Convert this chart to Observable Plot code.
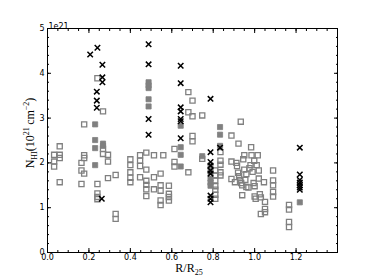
<!DOCTYPE html>
<html><head><meta charset="utf-8">
<script src="https://cdn.jsdelivr.net/npm/d3@7"></script>
<script src="https://cdn.jsdelivr.net/npm/@observablehq/plot@0.6"></script>
<style>body{margin:0;background:#fff}#chart{width:374px;height:280px}</style>
</head><body><div id="chart"></div>
<script>
// open (hollow) gray squares
const openX = [0.032,0.032,0.032, 0.059,0.059,0.059,0.059, 0.164,0.164,0.164, 0.177,0.177,0.177,0.177,
  0.241,0.241,0.241,0.241,0.241, 0.268,0.268,0.268, 0.292,0.292,0.292, 0.329,0.329,0.329,
  0.40,0.40,0.40,0.40,0.40, 0.447,0.447,0.447,0.447, 0.477,0.477,0.477,0.477,0.477,0.477,
  0.514,0.514,0.514, 0.546,0.546,0.546,0.546,0.546, 0.559, 0.586,0.586,0.586,0.586,
  0.613,0.613,0.613, 0.68,0.68,0.68, 0.70,0.70,0.70,0.70, 0.747,0.747,
  0.81,0.81,0.81,0.81,0.81,0.81,0.81, 0.835,0.835,0.835,0.835,0.835,
  0.888,0.888,0.888, 0.922,0.933,0.983,
  0.905,0.912,0.915,0.92,0.925,0.93,0.935,0.94,0.94,0.945,0.95,0.95,0.955,0.96,0.96,0.97,0.975,0.98,0.985,0.99,0.995,0.998,
  1.0,1.0,1.005,1.01,1.015,1.02,1.02,1.025,1.03,1.03,1.045,1.05,1.05,1.05,
  1.089,1.089,1.089,1.089,1.089, 1.166,1.166,1.166,1.166];
const openY = [2.18,2.03,1.92, 2.37,2.18,2.11,1.57, 2.00,1.83,1.53, 2.86,2.17,2.11,1.76,
  3.89,1.53,1.32,1.24,1.19, 3.15,2.31,2.20, 2.18,2.03,1.66, 1.73,0.86,0.75,
  2.08,1.95,1.79,1.67,1.57, 2.17,2.05,1.93,1.68, 2.23,1.85,1.60,1.51,1.41,1.26,
  2.17,1.68,1.41, 1.76,1.50,1.38,1.16,1.06, 2.17, 1.49,1.31,1.24,1.16,
  2.31,2.02,1.92, 3.58,3.13,1.79, 3.39,3.04,2.60,2.48, 3.06,2.09,
  1.83,1.72,1.61,1.48,1.40,1.29,1.20, 2.24,2.05,1.96,1.79,1.72,
  2.61,2.03,1.64, 2.43,2.92,2.35,
  1.57,2.00,1.93,1.78,1.70,1.62,1.55,1.50,1.28,2.08,2.17,1.85,1.62,1.75,1.46,1.45,1.88,1.95,2.17,1.80,1.55,2.05,
  1.48,1.25,1.20,1.95,2.17,1.83,1.65,1.30,1.23,0.86,1.57,1.13,0.97,0.90,
  1.83,1.61,1.50,1.35,1.25, 1.06,0.96,0.68,0.57];
// filled gray squares
const filledX = [0.23,0.23,0.23,0.23, 0.268,0.268, 0.488,0.488,0.488,0.488,0.488,
  0.643,0.643,0.643,0.643, 0.747, 0.787,0.787,0.787,0.787,0.787, 0.833,0.833,0.833, 1.218];
const filledY = [2.86,2.51,2.33,1.95, 2.43,2.38, 3.80,3.73,3.67,3.42,3.26,
  2.83,2.35,2.18,1.92, 2.15, 1.92,1.80,1.65,1.56,1.49, 2.80,2.63,2.38, 1.12];
// black crosses
const crossX = [0.206,0.241,0.265,0.265,0.265,0.238,0.238,0.238,0.262,
  0.488,0.488,0.488,0.488, 0.643,0.643,0.643,0.643,0.643,0.643,0.643,
  0.787,0.787,0.787,0.787,0.787,0.787,0.787,0.787,0.787, 0.833,
  1.218,1.218,1.218,1.218,1.218,1.218,1.218];
const crossY = [4.42,4.57,4.19,3.91,3.80,3.59,3.39,3.23,1.20,
  4.65,4.20,2.98,2.63, 4.17,3.78,3.24,3.15,2.98,2.93,2.55,
  3.43,2.24,2.02,1.94,1.83,1.76,1.27,1.20,1.12, 2.34,
  2.34,1.74,1.62,1.56,1.50,1.45,1.40];

const xTicks = [0, 0.2, 0.4, 0.6, 0.8, 1.0, 1.2];
const xTickLabels = ["0.0","0.2","0.4","0.6","0.8","1.0","1.2"];
const xMinorTicks = d3.range(0, 29).map(i => i * 0.05);
const yTicks = [0, 1, 2, 3, 4, 5];
const yTickLabels = ["0","1","2","3","4","5"];
const yMinorTicks = d3.range(0, 26).map(i => i * 0.2);
const offsetText = ["1e21"];

const rows = (xs, ys) => xs.map((x, i) => ({x, y: ys[i]}));
const gray = "#808080";
const blank = () => "";

const plot = Plot.plot({
  width: 374, height: 280,
  marginLeft: 47, marginRight: 37, marginTop: 28, marginBottom: 28,
  style: {fontFamily: "DejaVu Sans", fontSize: "8px", background: "#fff", color: "#000"},
  x: {domain: [0, 1.4]},
  y: {domain: [0, 5]},
  marks: [
    Plot.dot(rows(openX, openY), {x: "x", y: "y", symbol: "square", r: 2.9, stroke: gray, strokeWidth: 1.3, fill: "none"}),
    Plot.dot(rows(filledX, filledY), {x: "x", y: "y", symbol: "square", r: 2.9, fill: gray, stroke: gray, strokeWidth: 0.8}),
    Plot.dot(rows(crossX, crossY), {x: "x", y: "y", symbol: "times", r: 2.6, stroke: "#000", strokeWidth: 1.5}),
    Plot.frame({stroke: "#000", strokeWidth: 1}),
    Plot.axisX(xMinorTicks, {anchor: "bottom", tickSize: -2, tickFormat: blank, label: null}),
    Plot.axisX(xMinorTicks, {anchor: "top", tickSize: -2, tickFormat: blank, label: null}),
    Plot.axisX(xTicks, {anchor: "top", tickSize: -4, tickFormat: blank, label: null}),
    Plot.axisX(xTicks, {anchor: "bottom", tickSize: -4, tickPadding: 6, tickFormat: (d, i) => xTickLabels[i], label: null}),
    Plot.axisY(yMinorTicks, {anchor: "left", tickSize: -2, tickFormat: blank, label: null}),
    Plot.axisY(yMinorTicks, {anchor: "right", tickSize: -2, tickFormat: blank, label: null}),
    Plot.axisY(yTicks, {anchor: "right", tickSize: -4, tickFormat: blank, label: null}),
    Plot.axisY(yTicks, {anchor: "left", tickSize: -4, tickPadding: 7, tickFormat: (d, i) => yTickLabels[i], label: null}),
    Plot.text(offsetText, {frameAnchor: "top-left", text: d => d, textAnchor: "start", dy: -5, dx: 1, fontSize: 8})
  ]
});
document.getElementById("chart").appendChild(plot);

// axis titles with sub/superscripts (real text)
const svg = d3.select(plot);
const serif = "'Liberation Serif', 'DejaVu Serif', serif";
const xl = svg.append("text").attr("x", 189).attr("y", 272).attr("text-anchor", "middle")
  .attr("font-family", serif).attr("font-size", 12).attr("fill", "#000");
xl.append("tspan").text("R/R");
xl.append("tspan").attr("font-size", 8).attr("dy", 3).text("25");

const yl = svg.append("text").attr("transform", "translate(34,133) rotate(-90)").attr("text-anchor", "middle")
  .attr("font-family", serif).attr("font-size", 12).attr("fill", "#000");
yl.append("tspan").text("N");
yl.append("tspan").attr("font-size", 8).attr("dy", 3).text("HI");
yl.append("tspan").attr("dy", -3).text("(10");
yl.append("tspan").attr("font-size", 8).attr("dy", -5).text("21");
yl.append("tspan").attr("dy", 5).text("\u2009cm");
yl.append("tspan").attr("font-size", 8).attr("dy", -5).text("\u22122");
yl.append("tspan").attr("dy", 5).text(")");
</script></body></html>
